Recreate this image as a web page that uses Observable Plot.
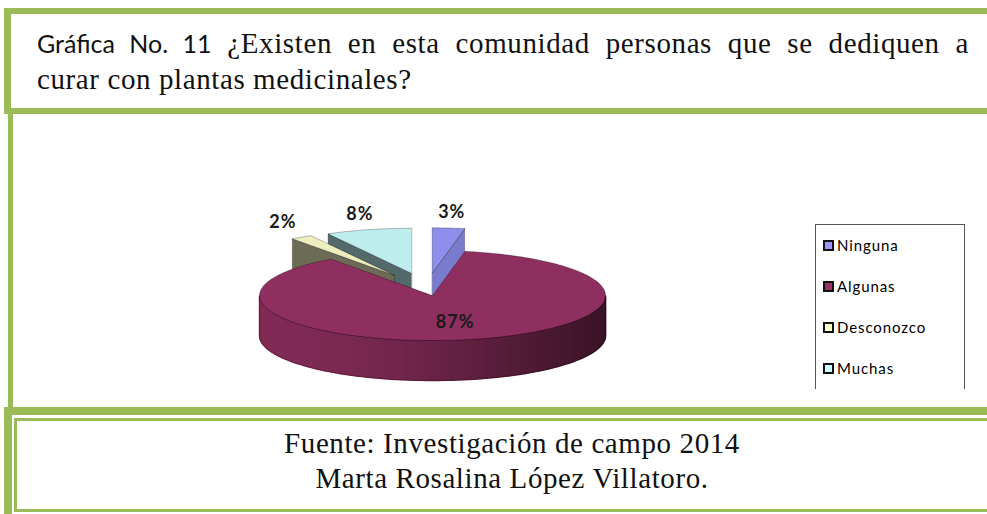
<!DOCTYPE html>
<html>
<head>
<meta charset="utf-8">
<script src="https://cdn.jsdelivr.net/npm/d3@7"></script>
<script src="https://cdn.jsdelivr.net/npm/@observablehq/plot@0.6"></script>
<style>
  body { margin: 0; width: 987px; height: 514px; overflow: hidden; position: relative; background: #fff; }
  .abs { position: absolute; }
  .serif { font-family: "Liberation Serif", "Times New Roman", serif; font-size: 29px; letter-spacing: 0.6px; color: #111; line-height: 36px; }
  .sans { font-family: Lato, "Open Sans", sans-serif; font-size: 25px; letter-spacing: 0; }
  #topbox { left: 4px; top: 8px; width: 1100px; height: 106px; box-sizing: border-box; border-style: solid; border-color: #9BBB59; border-width: 6px 0 6px 7px; }
  #line1 { left: 37px; top: 25px; width: 932px; text-align: justify; text-align-last: justify; }
  #line2 { left: 37px; top: 61px; }
  #midline { left: 8px; top: 114px; width: 5px; height: 293px; background: #9BBB59; }
  #chart { left: 0; top: 114px; width: 987px; height: 293px; }
  #legend { left: 815px; top: 224px; width: 150px; height: 165px; box-sizing: border-box; border: 1.5px solid #555; border-bottom: none; }
  .item { position: absolute; left: 7px; height: 20px; display: flex; align-items: center; font-family: Lato, sans-serif; font-size: 15px; letter-spacing: 0.9px; color: #000; }
  .sw { width: 7px; height: 7px; border: 2px solid #111; margin-right: 3px; }
  #botouter { left: 4px; top: 407px; width: 1100px; height: 200px; box-sizing: border-box; border-style: solid; border-color: #9BBB59; border-width: 8px 0 0 8px; }
  #botinner { left: 14px; top: 418px; width: 1100px; height: 94px; box-sizing: border-box; border-style: solid; border-color: #9BBB59; border-width: 3px 0 3px 3px; }
  #foot { left: 0; top: 426px; width: 1024px; text-align: center; line-height: 35px; }
</style>
</head>
<body>
<div id="topbox" class="abs"></div>
<div id="line1" class="abs serif"><span class="sans">Gráfica No. 11</span> ¿Existen en esta comunidad personas que se dediquen a</div>
<div id="line2" class="abs serif">curar con plantas medicinales?</div>
<div id="chart" class="abs"></div>
<div id="midline" class="abs"></div>
<div id="legend" class="abs"></div>
<div id="botouter" class="abs"></div>
<div id="botinner" class="abs"></div>
<div id="foot" class="abs serif">Fuente: Investigación de campo 2014<br>Marta Rosalina López Villatoro.</div>
<script>
// ---- data ----
const categories = ["Ninguna", "Algunas", "Desconozco", "Muchas"];
const values = [3, 87, 2, 8];
const pctLabels = ["3%", "87%", "2%", "8%"];
const palette = ["#9999FF", "#993366", "#FFFFCC", "#CCFFFF"];
const explode = [0.35, 0.16, 0.35, 0.35];

// ---- geometry of the 3-D pie (unit radius) ----
const S = 173;            // px per radius unit
const K = 45 / 173;       // vertical squash of the tilted disc
const D = 40 / 173;       // thickness
const W = 987, H = 293, CX = 426, CY = 174;

const arcs = d3.pie().sort(null).value(d => d)(values);
const slices = arcs.map((a, i) => {
  const mid = (a.startAngle + a.endAngle) / 2;
  const e = explode[i];
  return {i, a0: a.startAngle, a1: a.endAngle, mid, ex: e * Math.sin(mid), ey: e * K * Math.cos(mid)};
});
const P = (s, a, r, z) => ({u: s.ex + r * Math.sin(a), v: s.ey + r * K * Math.cos(a) - z * D});
function arcPts(s, a0, a1, z) {
  const n = Math.max(2, Math.ceil((a1 - a0) / (Math.PI / 180)));
  return d3.range(n + 1).map(k => P(s, a0 + (a1 - a0) * k / n, 1, z));
}
const shade = (c, k) => d3.color(c).darker(k).formatHex();

const order = slices.slice().sort((a, b) =>
  (b.ey + 0.5 * K * Math.cos(b.mid)) - (a.ey + 0.5 * K * Math.cos(a.mid)));

const faces = [];
for (const s of order) {
  const base = palette[s.i];
  const nStart = s.a0 - Math.PI / 2, nEnd = s.a1 + Math.PI / 2;
  for (const [a, n] of [[s.a0, nStart], [s.a1, nEnd]]) {
    if (Math.cos(n) < -1e-6) {
      faces.push({color: shade(base, 0.6 + (1 - Math.sin(n))),
        pts: [P(s, a, 0, 0), P(s, a, 1, 0), P(s, a, 1, 1), P(s, a, 0, 1)]});
    }
  }
  const lo = Math.max(s.a0, Math.PI / 2), hi = Math.min(s.a1, 3 * Math.PI / 2);
  if (lo < hi) {
    // whole wall as a base, then shaded strips on top
    const outline = [...arcPts(s, lo, hi, 0), ...arcPts(s, lo, hi, 1).reverse()];
    const strips = [];
    const n = Math.ceil((hi - lo) / (Math.PI / 90));
    for (let k = 0; k < n; k++) {
      const a = lo + (hi - lo) * k / n, b = lo + (hi - lo) * (k + 1) / n;
      const t = (1 + Math.sin((a + b) / 2)) / 2;
      const col = shade(base, 0.5 + 2.2 * t * t);
      for (const p of [P(s, a, 1, 0), P(s, b, 1, 0), P(s, b, 1, 1), P(s, a, 1, 1)]) strips.push({...p, id: k, color: col});
    }
    faces.push({wall: strips, outline, color: shade(base, 1.1)});
  }
  faces.push({color: shade(base, 0.2), pts: [P(s, s.a0, 0, 0), ...arcPts(s, s.a0, s.a1, 0)]});
}

const marks = [];
for (const f of faces) {
  if (f.wall) {
    marks.push(Plot.line(f.outline, {x: "u", y: "v", fill: f.color, stroke: "none", curve: "linear-closed"}));
    marks.push(Plot.line(f.wall, {x: "u", y: "v", z: "id", fill: "color", stroke: "color", strokeWidth: 1.4, strokeLinejoin: "miter", curve: "linear-closed", clip: false}));
    marks.push(Plot.line(f.outline, {x: "u", y: "v", fill: "none", stroke: "#000", strokeOpacity: 0.4, strokeWidth: 0.6, curve: "linear-closed"}));
  } else {
    marks.push(Plot.line(f.pts, {x: "u", y: "v", fill: f.color, stroke: "#000", strokeOpacity: 0.45, strokeWidth: 0.6, curve: "linear-closed"}));
  }
}

// percentage labels: outside for the small exploded slices, inside for the large one
const labelData = slices.map(s => {
  if (values[s.i] < 50) {
    return {u: s.ex + 1.2 * Math.sin(s.mid), v: s.ey + 1.12 * K * Math.cos(s.mid) + 10 / S, t: pctLabels[s.i]};
  }
  return {u: s.ex + 0.6 * Math.sin(s.mid), v: s.ey + 0.6 * K * Math.cos(s.mid), t: pctLabels[s.i]};
});
marks.push(Plot.text(labelData, {x: "u", y: "v", text: "t", fontSize: 18, fontWeight: "bold", fill: "#1a1a1a"}));

const chart = Plot.plot({
  width: W, height: H, margin: 0,
  x: {domain: [-CX / S, (W - CX) / S], axis: null},
  y: {domain: [(CY - H) / S, CY / S], axis: null},
  color: {type: "identity"},
  style: {fontFamily: "Lato, sans-serif", letterSpacing: "1px", background: "transparent", overflow: "visible"},
  marks
});
document.getElementById("chart").appendChild(chart);

// legend
const legend = document.getElementById("legend");
const itemTops = [10, 51, 92, 133];
categories.forEach((c, i) => {
  const it = document.createElement("div");
  it.className = "item";
  it.style.top = itemTops[i] + "px";
  const sw = document.createElement("div");
  sw.className = "sw";
  sw.style.background = palette[i];
  it.appendChild(sw);
  it.appendChild(document.createTextNode(c));
  legend.appendChild(it);
});
</script>
</body>
</html>
